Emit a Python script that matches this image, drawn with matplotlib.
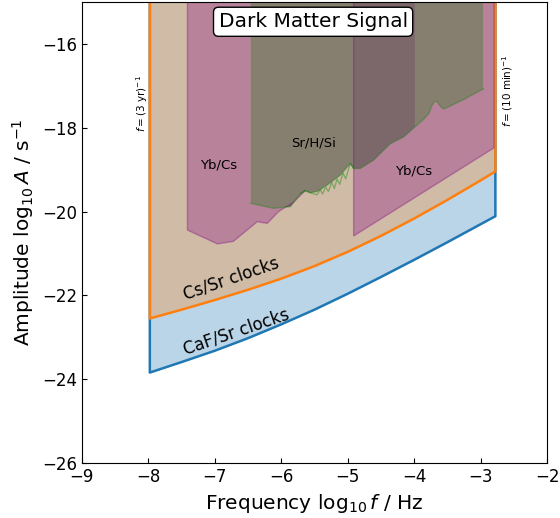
import numpy as np
import matplotlib
matplotlib.use("Agg")
import matplotlib.pyplot as plt

# frequency window: (3 yr)^-1 .. (10 min)^-1
f_lo = np.log10(1 / (3 * 365.25 * 86400))
f_hi = np.log10(1 / 600)
top = -15.0

# clock sensitivity curves, log10 f vs log10 A
cs_x = [f_lo, -7.5, -7.0, -6.5, -6.0, -5.5, -5.0, -4.5, -4.0, -3.5, -3.0, f_hi]
cs_y = [-22.55, -22.34, -22.11, -21.865, -21.60, -21.30, -20.96, -20.58, -20.165, -19.72, -19.255, -19.04]
caf_x = [f_lo, -7.5, -7.0, -6.5, -6.0, -5.5, -5.0, -4.5, -4.0, -3.5, -3.0, f_hi]
caf_y = [-23.84, -23.59, -23.32, -23.02, -22.69, -22.34, -21.96, -21.56, -21.15, -20.73, -20.30, -20.11]

# Sr/H/Si excluded region, lower edge
srh_x = [-6.46, -6.11, -5.86, -5.79, -5.71, -5.64, -5.56, -5.46, -5.31, -5.11, -4.96, -4.91,
         -4.81, -4.61, -4.36, -4.16, -3.99, -3.86, -3.78, -3.73, -3.70, -3.66, -3.62, -3.58,
         -3.55, -3.25, -2.96]
srh_y = [-19.80, -19.92, -19.88, -19.73, -19.57, -19.50, -19.55, -19.52, -19.37, -19.13, -18.85, -18.97,
         -18.97, -18.77, -18.38, -18.22, -17.98, -17.80, -17.66, -17.46, -17.38, -17.37, -17.45, -17.53,
         -17.55, -17.32, -17.07]

# Sr/H/Si raw limit (noisy part)
raw_x = [-5.71, -5.64, -5.56, -5.46, -5.41, -5.38, -5.33, -5.29, -5.24, -5.20, -5.16, -5.12,
         -5.07, -5.03, -4.98, -4.96, -4.91]
raw_y = [-19.57, -19.50, -19.55, -19.60, -19.47, -19.58, -19.42, -19.52, -19.30, -19.45, -19.22, -19.35,
         -19.08, -19.22, -18.95, -18.85, -18.97]

# Yb/Cs lower limits (two campaigns)
yb1_x = [-7.41, -6.96, -6.72, -6.36, -6.21, -6.04, -5.81, -5.64]
yb1_y = [-20.44, -20.77, -20.71, -20.24, -20.28, -20.00, -19.77, -19.50]
yb2_x = [-4.91, -2.80]
yb2_y = [-20.58, -18.48]

purple = (0.5, 0.0, 0.5)

fig = plt.figure(figsize=(5.6, 5.18), dpi=100)
ax = fig.add_axes([0.146, 0.106, 0.831, 0.890])

# clock exclusion bands
ax.fill_between(caf_x, caf_y, top, color="C0", alpha=0.3, lw=0)
ax.fill_between(cs_x, cs_y, top, color="C1", alpha=0.3, lw=0)
ax.plot([f_lo] + caf_x + [f_hi], [top] + caf_y + [top], color="C0", lw=1.8)
ax.plot([f_lo] + cs_x + [f_hi], [top] + cs_y + [top], color="C1", lw=1.8)

# Yb/Cs left: bounded above by the Sr/H/Si edge
k = srh_x.index(yb1_x[-1])
p1x = [yb1_x[0], srh_x[0]] + srh_x[:k + 1] + yb1_x[::-1]
p1y = [top, top] + srh_y[:k + 1] + yb1_y[::-1]
ax.fill(p1x, p1y, color=purple, alpha=0.3, lw=0)
ax.plot([yb1_x[0]] + yb1_x, [top] + yb1_y, color=purple, alpha=0.35, lw=1)

# Yb/Cs right
j = srh_x.index(-3.99)
p2x = [yb2_x[0], yb2_x[0], -3.99] + srh_x[j:] + [srh_x[-1], yb2_x[1], yb2_x[1]]
p2y = [yb2_y[0], top, top] + srh_y[j:] + [top, top, yb2_y[1]]
ax.fill(p2x, p2y, color=purple, alpha=0.3, lw=0)
ax.plot([yb2_x[0]] + yb2_x + [yb2_x[1]], [top] + yb2_y + [top], color=purple, alpha=0.35, lw=1)

# Sr/H/Si
ax.fill([srh_x[0]] + srh_x + [srh_x[-1]], [top] + srh_y + [top],
        color="#56584c", alpha=0.6, lw=0)
ax.plot(srh_x, srh_y, color="green", alpha=0.35, lw=1)
ax.plot(raw_x, raw_y, color="green", alpha=0.4, lw=0.9)

ax.text(-6.94, -18.89, "Yb/Cs", ha="center", va="center", fontsize=9.5)
ax.text(-4.01, -19.03, "Yb/Cs", ha="center", va="center", fontsize=9.5)
ax.text(-5.52, -18.37, "Sr/H/Si", ha="center", va="center", fontsize=9.5)
ax.text(-6.76, -21.59, "Cs/Sr clocks", ha="center", va="center", fontsize=12, rotation=19)
ax.text(-6.67, -22.86, "CaF/Sr clocks", ha="center", va="center", fontsize=12, rotation=19)
ax.text(-8.09, -17.42, r"$f=(3\ \mathrm{yr})^{-1}$", ha="center", va="center",
        fontsize=7.5, rotation=90)
ax.text(-2.59, -17.12, r"$f=(10\ \mathrm{min})^{-1}$", ha="center", va="center",
        fontsize=7.5, rotation=90)
ax.text(-5.52, -15.47, "Dark Matter Signal", ha="center", va="center", fontsize=14.5,
        bbox=dict(boxstyle="round,pad=0.25", fc="white", ec="black"))

ax.set_xlim(-9, -2)
ax.set_ylim(-26, -15)
ax.set_xticks(np.arange(-9, -1, 1))
ax.set_yticks(np.arange(-26, -15, 2))
ax.tick_params(direction="in", labelsize=12)
ax.set_xlabel(r"Frequency $\log_{10} f$ / Hz", fontsize=14.5)
ax.set_ylabel(r"Amplitude $\log_{10} A$ / s$^{-1}$", fontsize=14.5)

fig.savefig("out.png", dpi=100)
